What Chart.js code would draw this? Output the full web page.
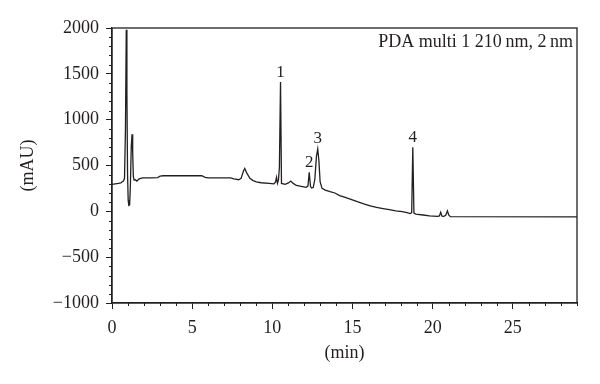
<!DOCTYPE html>
<html>
<head>
<meta charset="utf-8">
<title>PDA chromatogram</title>
<script src="https://cdn.jsdelivr.net/npm/chart.js@4.4.1/dist/chart.umd.min.js"></script>
<style>
    html, body { margin: 0; padding: 0; background: #ffffff; }
    #wrap { width: 600px; height: 384px; position: relative; }
</style>
</head>
<body>
<div id="wrap"><canvas id="chromChart"></canvas></div>
<script>
// Retention time (min) and detector signal (mAU)
const retentionTimes = [
    0.00, 0.20, 0.40, 0.55, 0.65, 0.72, 0.78, 0.84, 0.89, 0.93, 0.97, 1.01, 1.05, 1.10, 1.15, 1.20, 1.25, 1.29, 1.33, 1.38,
    1.45, 1.55, 1.70, 1.90, 2.50, 2.85, 3.00, 3.20, 5.60, 5.80, 6.00, 7.40, 7.60, 7.90, 8.05, 8.20, 8.28, 8.40, 8.60, 8.80,
    9.00, 9.30, 9.80, 10.10, 10.20, 10.26, 10.32, 10.38, 10.44, 10.51, 10.57, 10.80, 11.00, 11.15, 11.30, 11.50,
    11.80, 12.10, 12.22, 12.30, 12.38, 12.45, 12.55, 12.65, 12.75, 12.83, 12.90, 12.98, 13.10, 13.30, 13.60, 13.90, 14.20, 14.50, 14.90,
    15.30, 15.70, 16.10, 16.50, 16.90, 17.30, 17.70, 18.10, 18.40, 18.60, 18.69, 18.76, 18.83, 18.95, 19.40, 19.80, 20.30, 20.42,
    20.50, 20.58, 20.70, 20.82, 20.92, 21.00, 21.10, 29.00
];
const signalMAU = [
    295, 300, 305, 310, 325, 330, 360, 900, 1980, 1300, 400, 120, 65, 70, 300, 700, 840, 650, 380, 340,
    345, 330, 355, 365, 365, 368, 385, 388, 388, 370, 365, 365, 355, 345, 360, 440, 468, 420, 360, 335,
    322, 312, 305, 300, 320, 370, 305, 340, 480, 1410, 305, 295, 310, 330, 305, 282,
    272, 262, 275, 425, 270, 255, 260, 350, 600, 680, 560, 320, 250, 232, 215, 200, 172, 155, 130,
    105, 82, 60, 43, 30, 18, 5, -3, -15, -25, -15, 700, -20, -30, -40, -50, -55, -50,
    -10, -52, -55, -40, 5, -40, -58, -60
];

// Peak numbers and where they sit
const peakNames = ['1', '2', '3', '4'];
const peakTimes = [10.51, 12.30, 12.83, 18.76];
const peakTops = [1410, 425, 680, 700];

// Axis tick values
const xMajorTicks = [0, 5, 10, 15, 20, 25];
const yMajorTicks = [-1000, -500, 0, 500, 1000, 1500, 2000];

const inkColor = '#231f20';
const serifFont = '"Liberation Serif", "DejaVu Serif", serif';

// Plugin that draws the frame, minor ticks, peak numbers and the detector note
const chromDecor = {
    id: 'chromDecor',
    afterDraw(chart) {
        const ctx = chart.ctx;
        const area = chart.chartArea;
        const xs = chart.scales.x;
        const ys = chart.scales.y;

        ctx.save();
        ctx.strokeStyle = inkColor;
        ctx.lineWidth = 1.3;
        ctx.strokeRect(area.left, area.top, area.right - area.left, area.bottom - area.top); // box round the plot

        // minor ticks every 1 min and every 100 mAU
        ctx.lineWidth = 1;
        ctx.beginPath();
        for (let t = 0; t <= 29; t++) {
            if (t % 5 === 0) continue;
            const px = Math.round(xs.getPixelForValue(t)) + 0.5;
            ctx.moveTo(px, area.bottom);
            ctx.lineTo(px, area.bottom + 3);
        }
        for (let v = -1000; v <= 2000; v += 100) {
            if (v % 500 === 0) continue;
            const py = Math.round(ys.getPixelForValue(v)) + 0.5;
            ctx.moveTo(area.left, py);
            ctx.lineTo(area.left - 3, py);
        }
        ctx.stroke();

        // peak numbers above each peak
        ctx.fillStyle = inkColor;
        ctx.font = '17px ' + serifFont;
        ctx.textAlign = 'center';
        ctx.textBaseline = 'middle';
        peakNames.forEach((name, i) => {
            const px = xs.getPixelForValue(peakTimes[i]);
            const py = ys.getPixelForValue(peakTops[i]);
            ctx.fillText(name, px, py - 10);
        });

        // detector note in the top right corner
        ctx.font = '18px ' + serifFont;
        ctx.textAlign = 'right';
        ctx.fillText('PDA multi 1 210\u2009nm, 2\u2009nm', area.right - 4, area.top + 14);
        ctx.restore();
    }
};

const points = retentionTimes.map((t, i) => ({ x: t, y: signalMAU[i] })); // pair times with signal

new Chart(document.getElementById('chromChart'), {
    type: 'line',
    data: {
        datasets: [{
            data: points,
            borderColor: inkColor,
            borderWidth: 1.3,
            pointRadius: 0,
            tension: 0,
            fill: false
        }]
    },
    options: {
        responsive: true,
        maintainAspectRatio: false,
        animation: false,
        layout: { padding: { left: 0, right: 23, top: 28, bottom: 0 } },
        plugins: {
            legend: { display: false },
            tooltip: { enabled: false }
        },
        scales: {
            x: {
                type: 'linear',
                min: 0,
                max: 29,
                afterBuildTicks: scale => { scale.ticks = xMajorTicks.map(v => ({ value: v })); },
                afterFit: scale => { scale.height = 81; },
                grid: { drawOnChartArea: false, tickLength: 6, tickColor: inkColor, tickWidth: 1 },
                border: { display: true, color: inkColor, width: 1.3 },
                ticks: { color: inkColor, font: { family: serifFont, size: 18 }, padding: 8, maxRotation: 0 },
                title: { display: true, text: '(min)', color: inkColor, font: { family: serifFont, size: 18 }, padding: { top: 0, bottom: 20 } }
            },
            y: {
                min: -1000,
                max: 2000,
                afterBuildTicks: scale => { scale.ticks = yMajorTicks.map(v => ({ value: v })); },
                afterFit: scale => { scale.width = 112; },
                grid: { drawOnChartArea: false, tickLength: 6, tickColor: inkColor, tickWidth: 1 },
                border: { display: true, color: inkColor, width: 1.3 },
                ticks: {
                    color: inkColor,
                    font: { family: serifFont, size: 18 },
                    padding: 7,
                    callback: v => v < 0 ? '\u2212' + Math.abs(v) : String(v) // real minus sign
                },
                title: { display: true, text: '(mAU)', color: inkColor, font: { family: serifFont, size: 18 }, padding: { top: 17, bottom: 0 } }
            }
        }
    },
    plugins: [chromDecor]
});
</script>
</body>
</html>
